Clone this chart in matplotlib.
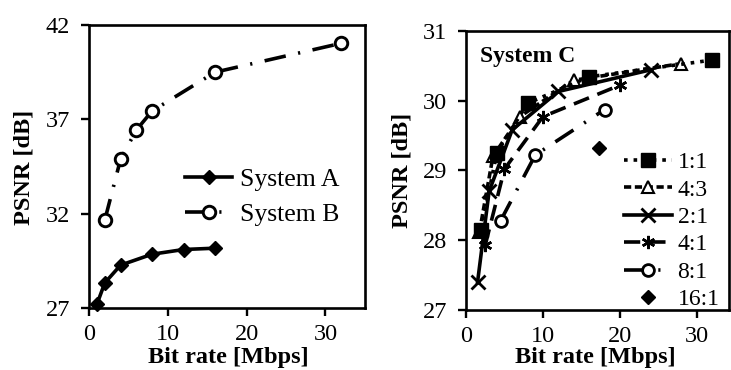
import matplotlib
matplotlib.use("Agg")
import matplotlib.pyplot as plt

plt.rcParams['font.family'] = ['Liberation Serif', 'DejaVu Serif']

# Left panel: System A and System B
sys_a_rate = [1, 2, 4, 8, 12, 16]
sys_a_psnr = [27.2, 28.33, 29.27, 29.85, 30.1, 30.17]
sys_b_rate = [2, 4, 6, 8, 16, 32]
sys_b_psnr = [31.66, 34.88, 36.43, 37.44, 39.5, 41.03]

# Right panel: System C at several aspect ratios
c_labels = ['1:1', '4:3', '2:1', '4:1', '8:1', '16:1']
c_rate = [
    [2, 4, 8, 16, 32],
    [1.75, 3.5, 7, 14, 28],
    [1.5, 3, 6, 12, 24],
    [2.5, 5, 10, 20],
    [4.5, 9, 18],
    [17.3],
]
c_psnr = [
    [28.15, 29.25, 29.96, 30.34, 30.58],
    [28.12, 29.2, 29.77, 30.29, 30.53],
    [27.4, 28.7, 29.58, 30.13, 30.44],
    [27.93, 29.02, 29.77, 30.22],
    [28.28, 29.22, 29.87],
    [29.32],
]

fig = plt.figure(figsize=(7.31, 3.70), dpi=100)
ax1 = fig.add_axes([0.1218, 0.1676, 0.3772, 0.7648])
ax2 = fig.add_axes([0.6375, 0.162, 0.3600, 0.755])

tick_fs = 17.5
lab_fs = 17.5
lw = 2.6

for ax in (ax1, ax2):
    for s in ax.spines.values():
        s.set_linewidth(1.9)
    ax.tick_params(direction='out', length=5.5, width=1.7, labelsize=tick_fs)
    ax.tick_params(axis='y', pad=8)
    ax.tick_params(axis='x', pad=6)
    ax.set_xlabel('Bit rate [Mbps]', fontsize=lab_fs, fontweight='bold')
    ax.set_ylabel('PSNR [dB]', fontsize=lab_fs, fontweight='bold')

ax1.xaxis.set_label_coords(0.505, -0.137)
ax1.yaxis.set_label_coords(-0.196, 0.496)
ax2.xaxis.set_label_coords(0.49, -0.133)
ax2.yaxis.set_label_coords(-0.205, 0.50)

# --- left panel ---
ax1.plot(sys_a_rate, sys_a_psnr, color='black', lw=lw, marker='D',
         markersize=7, label='System A', clip_on=False)
ax1.plot(sys_b_rate, sys_b_psnr, color='black', lw=lw, marker='o',
         markersize=9, markerfacecolor='white', markeredgewidth=2.1,
         dashes=(6, 3.5, 0.6, 3.5), label='System B', clip_on=False)
ax1.set_xlim(0, 35)
ax1.set_ylim(27, 42)
ax1.set_xticks([0, 10, 20, 30])
ax1.set_yticks([27, 32, 37, 42])
ax1.legend(loc='upper left', bbox_to_anchor=(0.348, 0.494), frameon=False,
           fontsize=18.5, handlelength=1.83, handletextpad=0.3,
           labelspacing=0.47, borderaxespad=0, borderpad=0)

# --- right panel ---
styles = [
    dict(ls=':', marker='s', markersize=9.5, mfc='black', zorder=4),
    dict(dashes=(2, 1), marker='^', markersize=8.5, mfc='white',
         markeredgewidth=1.5, zorder=3),
    dict(ls='-', marker='x', markersize=9.5, markeredgewidth=2.0, zorder=3),
    dict(dashes=(4.5, 2.5), marker=(6, 2, 0), markersize=9.5,
         markeredgewidth=1.8, zorder=3),
    dict(dashes=(6, 3.5, 0.6, 3.5), marker='o', markersize=8.5, mfc='white',
         markeredgewidth=2.0, zorder=3),
    dict(ls='none', marker='D', markersize=7, mfc='black', zorder=3),
]
for rate, psnr, lab, st in zip(c_rate, c_psnr, c_labels, styles):
    ax2.plot(rate, psnr, color='black', lw=lw, label=lab, clip_on=False,
             **st)
ax2.set_xlim(0, 34.2)
ax2.set_ylim(27, 31)
ax2.set_xticks([0, 10, 20, 30])
ax2.set_yticks([27, 28, 29, 30, 31])
ax2.text(0.053, 0.945, 'System C', transform=ax2.transAxes, fontsize=17,
         fontweight='bold', va='top', ha='left')
ax2.legend(loc='upper left', bbox_to_anchor=(0.602, 0.567), frameon=False,
           fontsize=17, handlelength=2.0, handletextpad=0.25,
           labelspacing=0.25, borderaxespad=0, borderpad=0)

fig.savefig('out.png', dpi=100)
